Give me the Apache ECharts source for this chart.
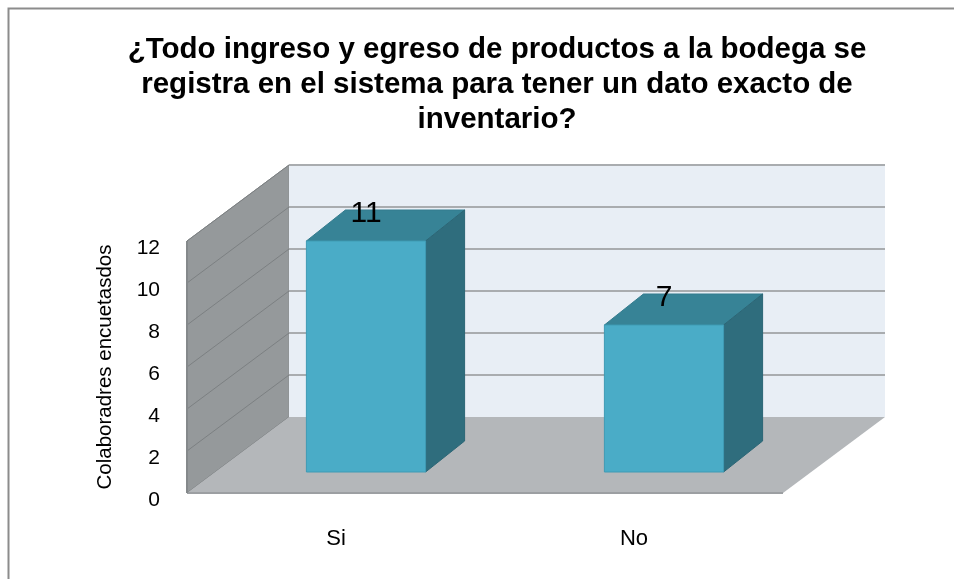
<!DOCTYPE html>
<html>
<head>
<meta charset="utf-8">
<script src="https://cdn.jsdelivr.net/npm/echarts@6/dist/echarts.min.js"></script>
<style>
  html, body { margin: 0; padding: 0; background: #ffffff; }
  #chart { width: 954px; height: 579px; }
</style>
</head>
<body>
<div id="chart"></div>
<script>
// Survey answers: employees asked whether every stock movement is recorded
const categories = ['Si', 'No'];
const respondents = [11, 7];
const yTicks = [0, 2, 4, 6, 8, 10, 12];

const titleText = '¿Todo ingreso y egreso de productos a la bodega se\nregistra en el sistema para tener un dato exacto de\ninventario?';
const yAxisName = 'Colaboradres encuetasdos';

// Depth vector of the 3D box (front plane -> back wall)
const BOX_DX = 102, BOX_DY = -76;
// Offset of the bar front face from the front plane, and bar depth
const BAR_OX = 30, BAR_OY = -21;
const BAR_DX = 39, BAR_DY = -31;

const FONT = '"Liberation Sans", Arial, sans-serif';

const chart = echarts.init(document.getElementById('chart'));

function renderBox(params, api) {
  const cs = params.coordSys;
  const x0 = cs.x, x1 = cs.x + cs.width;
  const yb = cs.y + cs.height, yt = cs.y;
  const children = [];
  // left side wall
  children.push({
    type: 'polygon',
    shape: { points: [[x0, yb], [x0, yt], [x0 + BOX_DX, yt + BOX_DY], [x0 + BOX_DX, yb + BOX_DY]] },
    style: { fill: '#95999b', stroke: '#8a8e90', lineWidth: 1 }
  });
  // back wall
  children.push({
    type: 'rect',
    shape: { x: x0 + BOX_DX, y: yt + BOX_DY, width: x1 - x0, height: yb - yt },
    style: { fill: '#e8eef5' }
  });
  // gridlines on back and side walls
  yTicks.forEach(function (v) {
    const y = api.coord([0, v])[1];
    if (v > 0) {
      children.push({
        type: 'line',
        shape: { x1: x0 + BOX_DX, y1: y + BOX_DY, x2: x1 + BOX_DX, y2: y + BOX_DY },
        style: { stroke: '#a9acaf', lineWidth: 2 }
      });
    }
    children.push({
      type: 'line',
      shape: { x1: x0, y1: y, x2: x0 + BOX_DX, y2: y + BOX_DY },
      style: { stroke: '#7c8082', lineWidth: 1 }
    });
  });
  // floor
  children.push({
    type: 'polygon',
    shape: { points: [[x0, yb], [x1, yb], [x1 + BOX_DX, yb + BOX_DY], [x0 + BOX_DX, yb + BOX_DY]] },
    style: { fill: '#b4b7ba' }
  });
  children.push({
    type: 'line',
    shape: { x1: x0, y1: yb, x2: x1, y2: yb },
    style: { stroke: '#9c9fa2', lineWidth: 2 }
  });
  children.push({
    type: 'line',
    shape: { x1: x0, y1: yb, x2: x0, y2: yt },
    style: { stroke: '#85898b', lineWidth: 2 }
  });
  return { type: 'group', children: children };
}

function renderBar(params, api) {
  const idx = api.value(0);
  const val = api.value(1);
  const base = api.coord([idx, 0]);
  const top = api.coord([idx, val]);
  const w = api.size([1, 0])[0] * 0.4;
  const xl = base[0] - w / 2 + BAR_OX, xr = xl + w;
  const yb = base[1] + BAR_OY, yt = top[1] + BAR_OY;
  return {
    type: 'group',
    children: [
      { type: 'polygon', shape: { points: [[xl, yt], [xr, yt], [xr + BAR_DX, yt + BAR_DY], [xl + BAR_DX, yt + BAR_DY]] },
        style: { fill: '#378396', stroke: '#347c8e', lineWidth: 1 } },
      { type: 'polygon', shape: { points: [[xr, yt], [xr + BAR_DX, yt + BAR_DY], [xr + BAR_DX, yb + BAR_DY], [xr, yb]] },
        style: { fill: '#2f6d7d', stroke: '#2c6676', lineWidth: 1 } },
      { type: 'rect', shape: { x: xl, y: yt, width: w, height: yb - yt },
        style: { fill: '#4aacc7', stroke: '#3f9bb4', lineWidth: 1 } },
      { type: 'text', x: (xl + xr) / 2, y: yt + BAR_DY + 4,
        style: { text: String(val), fill: '#000000', font: '30px ' + FONT,
                 align: 'center', verticalAlign: 'middle' } }
    ]
  };
}

chart.setOption({
  animation: false,
  backgroundColor: '#ffffff',
  title: {
    text: titleText,
    left: 492,
    top: 27,
    textAlign: 'center',
    textStyle: {
      fontFamily: FONT,
      fontSize: 29.5,
      fontWeight: 'bold',
      lineHeight: 35,
      color: '#000000'
    }
  },
  grid: { left: 187, right: 171, top: 241, bottom: 86, containLabel: false },
  xAxis: {
    type: 'category',
    data: categories,
    axisLine: { show: false },
    axisTick: { show: false },
    splitLine: { show: false },
    axisLabel: { margin: 35, fontSize: 22, color: '#000000', fontFamily: FONT }
  },
  yAxis: {
    type: 'value',
    min: 0, max: 12, interval: 2,
    name: yAxisName,
    nameLocation: 'middle',
    nameRotate: 90,
    nameGap: 71,
    nameTextStyle: { fontSize: 20.5, color: '#000000', fontFamily: FONT },
    axisLine: { show: false },
    axisTick: { show: false },
    splitLine: { show: false },
    axisLabel: {
      margin: 27,
      formatter: '{v|{value}}',
      rich: { v: { fontSize: 21, color: '#000000', fontFamily: FONT, padding: [15, 0, 0, 0] } }
    }
  },
  graphic: [
    { type: 'polyline', shape: { points: [[8.5, 579], [8.5, 8.5], [954, 8.5]] },
      style: { stroke: '#8c8c8c', lineWidth: 2, fill: null }, z: 100 }
  ],
  series: [
    { type: 'custom', renderItem: renderBox, data: [[0, 0]], z: 1, silent: true },
    { type: 'custom', renderItem: renderBar, data: categories.map(function (c, i) { return [i, respondents[i]]; }),
      encode: { x: 0, y: 1 }, z: 2 }
  ]
});
</script>
</body>
</html>
